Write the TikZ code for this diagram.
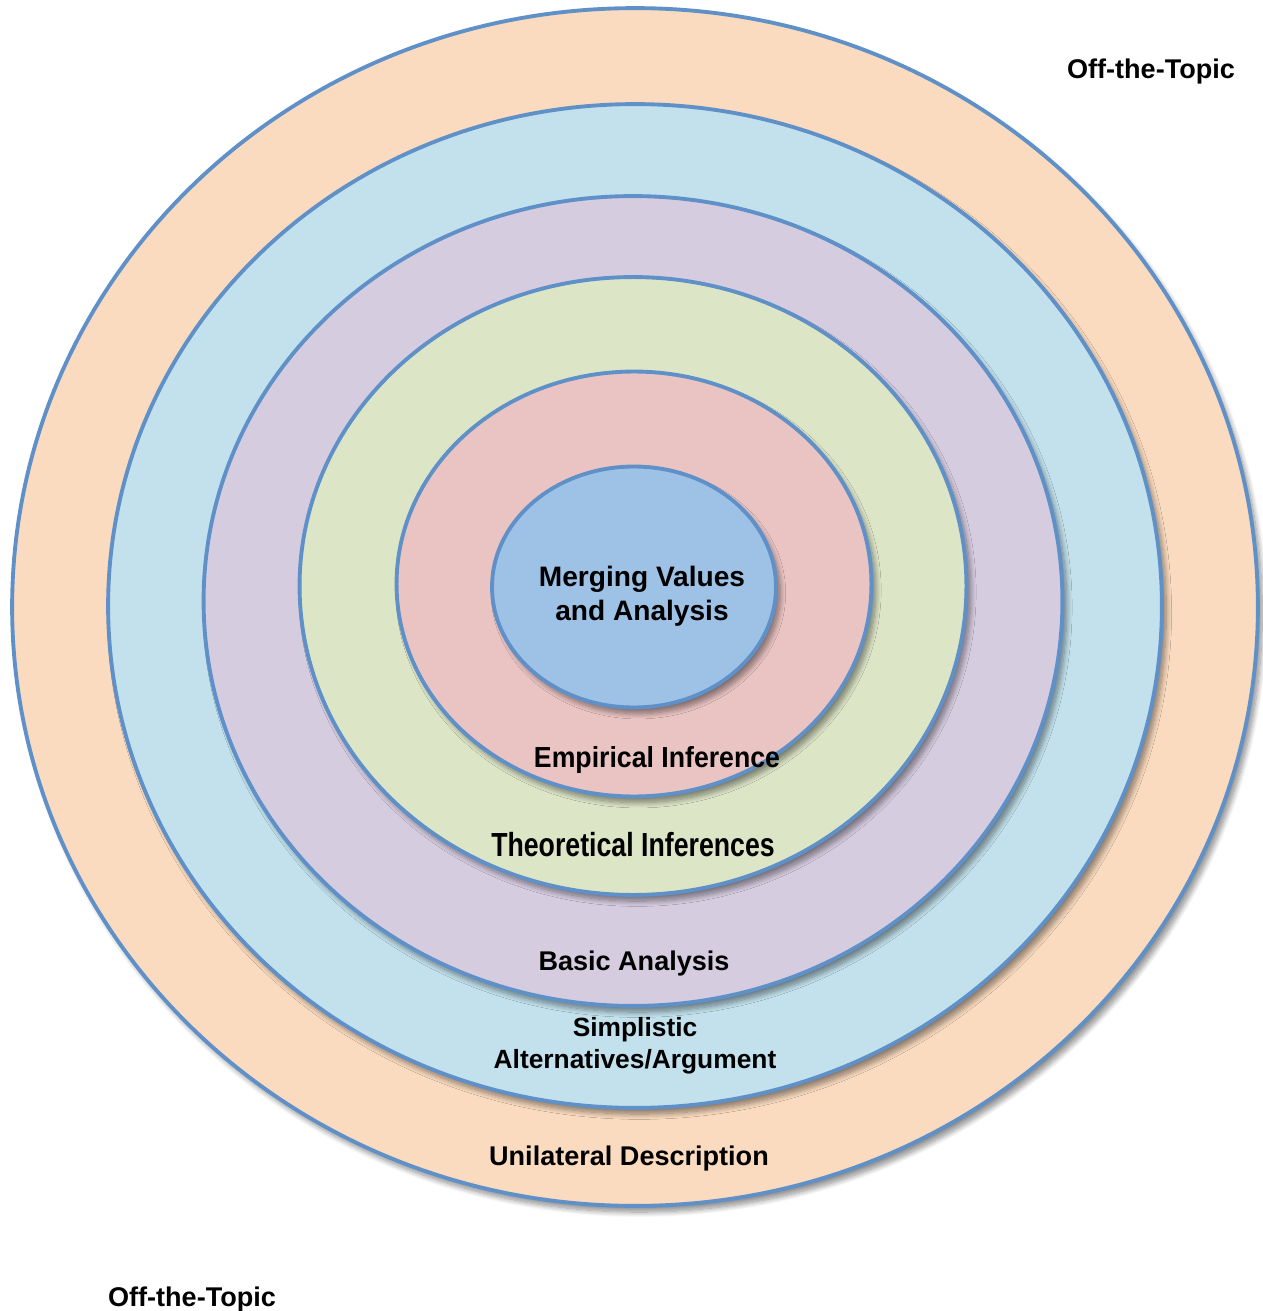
\documentclass[tikz,border=0pt]{standalone}
\usepackage{fontspec}
\setmainfont{Liberation Sans}
\usetikzlibrary{shapes.geometric,shadows.blur}

\definecolor{ringline}{HTML}{5F90C8}
\definecolor{cPeach}{HTML}{FADBBF}
\definecolor{cSky}{HTML}{C2E1EC}
\definecolor{cLilac}{HTML}{D6CCE0}
\definecolor{cSage}{HTML}{DDE5C7}
\definecolor{cRose}{HTML}{EAC4C3}
\definecolor{cCore}{HTML}{9EC1E6}

\begin{document}
\begin{tikzpicture}[x=0.02cm,y=-0.02cm,
  ring/.style={ellipse, draw=ringline, line width=2.2pt, inner sep=0pt, outer sep=0pt,
    blur shadow={shadow xshift=2.5pt, shadow yshift=-3.5pt, shadow blur radius=3pt,
      shadow blur steps=10, shadow opacity=45}},
  lbl/.style={font=\fontsize{15.4pt}{19pt}\selectfont\bfseries, text=black, align=center, inner sep=0pt}]
  \useasboundingbox (0,0) rectangle (1263,1311);

  % nested rings, outermost first
  \node[ring, fill=cPeach, minimum width=24.92cm, minimum height=23.96cm] (r1) at (635,607) {};
  \node[ring, fill=cSky,   minimum width=21.08cm, minimum height=20.08cm] (r2) at (635,606) {};
  \node[ring, fill=cLilac, minimum width=17.18cm, minimum height=16.20cm] (r3) at (633,601) {};
  \node[ring, fill=cSage,  minimum width=13.34cm, minimum height=12.36cm] (r4) at (633,586) {};
  \node[ring, fill=cRose,  minimum width=9.50cm,  minimum height=8.50cm]  (r5) at (634,584) {};
  \node[ring, fill=cCore,  minimum width=5.68cm,  minimum height=4.82cm]  (r6) at (634,587) {};

  % ring labels
  \node[lbl, font=\fontsize{16pt}{19.4pt}\selectfont\bfseries] (tcore) at (642,596) {Merging Values\\and Analysis};
  \node[lbl] (temp) at (657,760) {\fontsize{16.5pt}{19pt}\selectfont\scalebox{0.92}[1]{Empirical Inference}};
  \node[lbl] (ttheo) at (633,845) {\fontsize{19pt}{22pt}\selectfont\scalebox{0.8}[1]{Theoretical Inferences}};
  \node[lbl] (tbasic) at (634,963) {Basic Analysis};
  \node[lbl, font=\fontsize{15pt}{18.2pt}\selectfont\bfseries] (tsimp) at (635,1046) {Simplistic\\Alternatives/Argument};
  \node[lbl] (tuni) at (629,1158) {Unilateral Description};
  \node[lbl] (toff1) at (1151,72) {Off-the-Topic};
  \node[lbl] (toff2) at (192,1299) {Off-the-Topic};
\end{tikzpicture}
\end{document}
